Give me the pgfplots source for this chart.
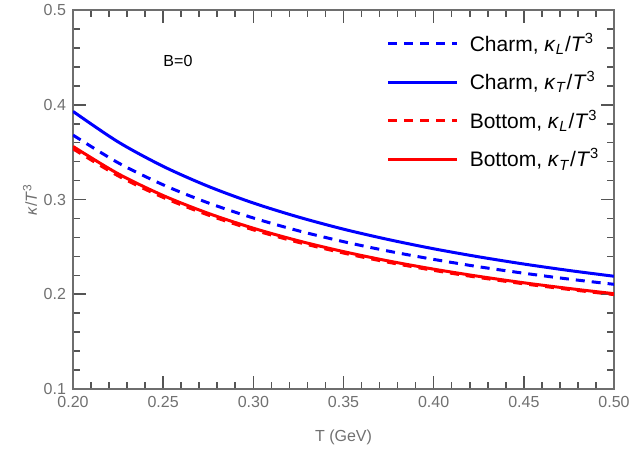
\documentclass[border=0pt]{standalone}
\usepackage{fontspec}
\setmainfont{Liberation Sans}
\usepackage{pgfplots}
\pgfplotsset{compat=1.18}
\definecolor{axgray}{HTML}{6E6E6E}
\definecolor{tickgray}{HTML}{555555}
\definecolor{lblgray}{HTML}{707070}

\newcommand{\kap}[1]{\textit{κ}\textsubscript{\textit{#1}}/\textit{T}\textsuperscript{3}}

\begin{document}
\begin{tikzpicture}
\begin{axis}[
  name=ax,
  width=270.5pt, height=189.5pt,
  scale only axis,
  xmin=0.2, xmax=0.5, ymin=0.1, ymax=0.5,
  xtick={0.2,0.25,0.3,0.35,0.4,0.45,0.5},
  ytick={0.1,0.2,0.3,0.4,0.5},
  minor xtick={0.21,0.22,0.23,0.24,0.26,0.27,0.28,0.29,0.31,0.32,0.33,0.34,0.36,0.37,0.38,0.39,0.41,0.42,0.43,0.44,0.46,0.47,0.48,0.49},
  minor ytick={0.12,0.14,0.16,0.18,0.22,0.24,0.26,0.28,0.32,0.34,0.36,0.38,0.42,0.44,0.46,0.48},
  major tick length=0.22cm,
  minor tick length=0.13cm,
  axis line style={axgray, line width=0.6pt},
  tick style={tickgray, line width=0.8pt},
  xticklabels={0.20,0.25,0.30,0.35,0.40,0.45,0.50},
  yticklabels={0.1,0.2,0.3,0.4,0.5},
  tick label style={font=\fontsize{8}{9}\selectfont, text=lblgray},
  xlabel={T (GeV)},
  ylabel={\textit{κ}/\textit{T}\textsuperscript{3}},
  label style={font=\fontsize{8}{9}\selectfont, text=lblgray},
  xlabel style={at={(axis description cs:0.5,-0.127)}, anchor=center},
  ylabel style={at={(axis description cs:-0.0795,0.5)}, anchor=center},
  legend style={at={(0.992,0.962)}, anchor=north east, draw=none, fill=none,
    font=\fontsize{10.5}{12}\selectfont, row sep=4.7pt, cells={anchor=west}},
  legend image code/.code={\draw[#1] (0pt,0pt) -- (34.5pt,0pt); \path (38pt,0pt);},
  every axis plot/.append style={line width=1.5pt},
]
% Charm, kappa_L (dashed blue)
\addplot[blue, dash pattern=on 4.5pt off 3.5pt, smooth] coordinates {
  (0.200,0.3680) (0.225,0.3388) (0.250,0.3155) (0.275,0.2964) (0.300,0.2805)
  (0.325,0.2670) (0.350,0.2555) (0.375,0.2455) (0.400,0.2368) (0.425,0.2290)
  (0.450,0.2222) (0.475,0.2160) (0.500,0.2105)
};
\addlegendentry{Charm, \kap{L}}
% Charm, kappa_T (solid blue)
\addplot[blue, smooth] coordinates {
  (0.200,0.3930) (0.225,0.3608) (0.250,0.3350) (0.275,0.3139) (0.300,0.2963)
  (0.325,0.2815) (0.350,0.2687) (0.375,0.2577) (0.400,0.2480) (0.425,0.2395)
  (0.450,0.2319) (0.475,0.2251) (0.500,0.2190)
};
\addlegendentry{Charm, \kap{T}}
% Bottom, kappa_L (dashed red)
\addplot[red, dash pattern=on 4.5pt off 3.5pt, smooth] coordinates {
  (0.200,0.3535) (0.225,0.3250) (0.250,0.3022) (0.275,0.2836) (0.300,0.2680)
  (0.325,0.2548) (0.350,0.2435) (0.375,0.2337) (0.400,0.2252) (0.425,0.2177)
  (0.450,0.2110) (0.475,0.2051) (0.500,0.1996)
};
\addlegendentry{Bottom, \kap{L}}
% Bottom, kappa_T (solid red)
\addplot[red, smooth] coordinates {
  (0.200,0.3560) (0.225,0.3272) (0.250,0.3042) (0.275,0.2854) (0.300,0.2697)
  (0.325,0.2564) (0.350,0.2450) (0.375,0.2351) (0.400,0.2265) (0.425,0.2189)
  (0.450,0.2121) (0.475,0.2061) (0.500,0.2006)
};
\addlegendentry{Bottom, \kap{T}}
\node[font=\fontsize{8}{9}\selectfont] at (axis cs:0.2582,0.446) {B=0};
\end{axis}
\pgfresetboundingbox
\path (ax.south west) ++(-36.5pt,-30.5pt) (ax.north east) ++(9pt,5pt);
\end{tikzpicture}
\end{document}
